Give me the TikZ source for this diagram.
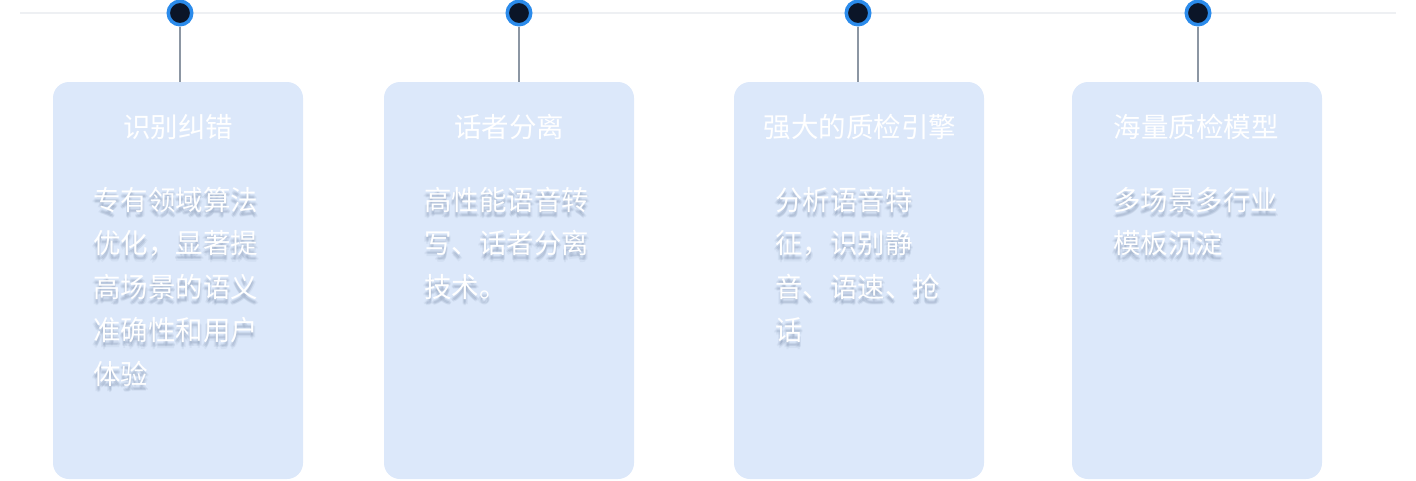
\documentclass[tikz,border=0pt]{standalone}
\usepackage{fontspec}
\newfontfamily\cjk{Noto Sans CJK SC}
\definecolor{cardc}{HTML}{DCE8FA}
\definecolor{ringc}{HTML}{2B8BEB}
\definecolor{darkc}{HTML}{0B1528}
\definecolor{stemc}{HTML}{8C96A3}
\definecolor{trackc}{HTML}{EEF0F3}
\definecolor{shadowc}{HTML}{5A6E90}
\newcommand\bline[4]{%
  \foreach \dx/\dy in {0/3,0/5,1/4,-1/4,0/6.5,1.5/5,-1.5/5}
    \node[bodytxt,text=shadowc,text opacity=0.07] at (#2+\dx,#3+\dy) {#4};
  \node[bodytxt] (#1) at (#2,#3) {#4};}
\begin{document}
\begin{tikzpicture}[x=1pt,y=-1pt,
  track/.style={draw=trackc,line width=1.5},
  card/.style={rectangle,rounded corners=16,fill=cardc,minimum width=250,minimum height=397,inner sep=0},
  dot/.style={circle,fill=darkc,draw=ringc,line width=3.5,minimum size=23.5,inner sep=0},
  stem/.style={draw=stemc,line width=1.3},
  titletxt/.style={anchor=base,inner sep=0,text=white,font=\cjk\fontsize{27.5}{33}\selectfont},
  bodytxt/.style={anchor=base west,inner sep=0,text=white,font=\cjk\fontsize{27.5}{33}\selectfont}]
\useasboundingbox (0,0) rectangle (1416,480);
\coordinate (tl) at (20,13);
\coordinate (tr) at (1396,13);
\draw[track] (tl) -- (tr);
% cards
\node[card] (b1) at (178,280.5) {};
\node[card] (b2) at (509,280.5) {};
\node[card] (b3) at (859,280.5) {};
\node[card] (b4) at (1197,280.5) {};
% dots
\node[dot] (d1) at (180,13) {};
\node[dot] (d2) at (519,13) {};
\node[dot] (d3) at (858,13) {};
\node[dot] (d4) at (1198,13) {};
\foreach \i in {1,2,3,4} \draw[stem] (d\i.south) -- (d\i.south |- b\i.north);
% titles
\node[titletxt] (t1) at (178,137.5) {识别纠错};
\node[titletxt] (t2) at (509,137.5) {话者分离};
\node[titletxt] (t3) at (860,137.5) {强大的质检引擎};
\node[titletxt] (t4) at (1196,137.5) {海量质检模型};
% bodies
\bline{a1}{93}{210}{专有领域算法}
\bline{a2}{93}{253.5}{优化，显著提}
\bline{a3}{93}{297}{高场景的语义}
\bline{a4}{93}{340.5}{准确性和用户}
\bline{a5}{93}{384}{体验}
\bline{c1}{424}{210}{高性能语音转}
\bline{c2}{424}{253.5}{写、话者分离}
\bline{c3}{424}{297}{技术。}
\bline{e1}{775}{210}{分析语音特}
\bline{e2}{775}{253.5}{征，识别静}
\bline{e3}{775}{297}{音、语速、抢}
\bline{e4}{775}{340.5}{话}
\bline{f1}{1113}{210}{多场景多行业}
\bline{f2}{1113}{253.5}{模板沉淀}
\end{tikzpicture}
\end{document}
